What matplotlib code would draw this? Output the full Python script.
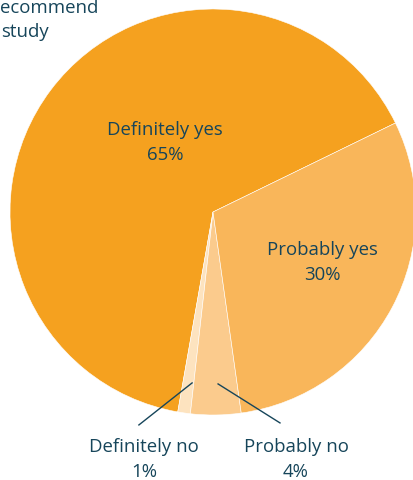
import matplotlib
matplotlib.use("Agg")
import matplotlib.pyplot as plt

# data
labels = ["Definitely yes", "Definitely no", "Probably no", "Probably yes"]
values = [65, 1, 4, 30]
colors = ["#F5A11F", "#FDE3BF", "#FBCB8D", "#F9B65A"]
title_lines = ["ecommend", "study"]

TEXT = "#16455A"
plt.rcParams["font.family"] = ["Open Sans", "DejaVu Sans"]

W, H = 414, 481
fig = plt.figure(figsize=(W / 100, H / 100), dpi=100)

cx, cy, r = 213, 213, 203
ax = fig.add_axes([(cx - r) / W, 1 - (cy + r) / H, 2 * r / W, 2 * r / H])

wedges, _ = ax.pie(values, colors=colors, startangle=26, counterclock=True,
                   radius=1, wedgeprops=dict(edgecolor="white", linewidth=0.4))
for w in wedges:
    w.set_clip_on(False)
ax.set_xlim(-1, 1)
ax.set_ylim(-1, 1)
ax.set_aspect("equal")
ax.axis("off")

fs = 13.4
ls = 1.5
ax.text(-0.236, 0.345, "Definitely yes\n65%", ha="center", va="center",
        color=TEXT, fontsize=fs, linespacing=ls)
ax.text(0.537, -0.246, "Probably yes\n30%", ha="center", va="center",
        color=TEXT, fontsize=fs, linespacing=ls)

# leader lines for small slices
ax.plot([-0.103, -0.365], [-0.842, -1.049], color=TEXT, lw=1, clip_on=False)
ax.plot([0.025, 0.330], [-0.847, -1.039], color=TEXT, lw=1, clip_on=False)
ax.text(-0.340, -1.212, "Definitely no\n1%", ha="center", va="center",
        color=TEXT, fontsize=fs, linespacing=ls)
ax.text(0.409, -1.212, "Probably no\n4%", ha="center", va="center",
        color=TEXT, fontsize=fs, linespacing=ls)

# title (cut off at the left edge in the original)
fig.text(0.0, 1 - 8 / H, title_lines[0], ha="left", va="center",
         color=TEXT, fontsize=fs)
fig.text(0.003, 1 - 32 / H, title_lines[1], ha="left", va="center",
         color=TEXT, fontsize=fs)

fig.savefig("out.png", dpi=100)
